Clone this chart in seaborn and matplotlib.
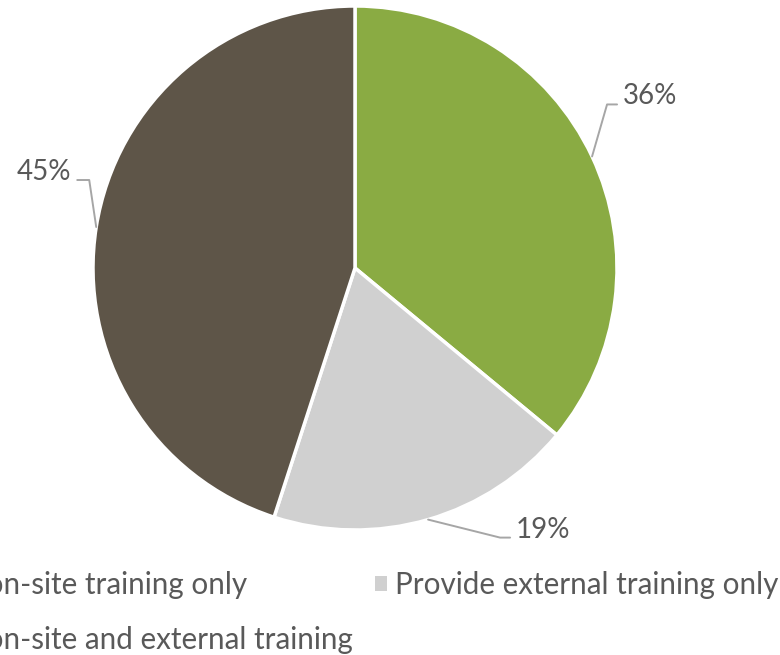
import numpy as np
import matplotlib.pyplot as plt
import matplotlib.patches as mpatches
import seaborn as sns

# data
categories = ["Provide on-site training only",
              "Provide external training only",
              "Provide on-site and external training"]
shares = [36, 19, 45]
pct_labels = ["36%", "19%", "45%"]
colors = ["#8aab43", "#d0d0d0", "#5e5548"]

sns.set_theme(style="white")
plt.rcParams['font.family'] = ['Lato', 'DejaVu Sans']
TXT = "#595959"
FS = 20
LFS = 21.3

W, H = 780, 655
fig = plt.figure(figsize=(7.8, 6.55), dpi=100)
ax = fig.add_axes([0, 0, 1, 1])
cx, cy, r = 355, H - 268, 262
wedges, _ = ax.pie(shares, colors=colors, startangle=90, counterclock=False,
                   center=(cx, cy), radius=r,
                   wedgeprops=dict(edgecolor="white", linewidth=2.5))
ax.set_xlim(0, W)
ax.set_ylim(0, H)
ax.set_aspect("equal")
ax.axis("off")

# leader line layout: (elbow dx, elbow dy, end dx) relative to wedge edge point
leader = [(15, 52, 25), (72, -18, 82), (-7, 47, -19)]
for w, lab, (ex, ey, endx) in zip(wedges, pct_labels, leader):
    th = np.deg2rad((w.theta1 + w.theta2) / 2)
    sx, sy = cx + r * np.cos(th), cy + r * np.sin(th)
    px, py = sx + ex, sy + ey
    qx = sx + endx
    ax.plot([sx, px, qx], [sy, py, py], color="#a6a6a6", lw=1.4)
    if endx > 0:
        ax.text(qx + 6, py + 8, lab, ha="left", va="center", fontsize=FS, color=TXT)
    else:
        ax.text(qx - 6, py + 8, lab, ha="right", va="center", fontsize=FS, color=TXT)

handles = [mpatches.Patch(facecolor=c, edgecolor="none") for c in colors]
order = [0, 2, 1]
top = 1 - 571 / H
leg = fig.legend([handles[i] for i in order], [categories[i] for i in order],
                 ncol=2, frameon=False, loc="upper left",
                 bbox_to_anchor=(0, top), borderpad=0, borderaxespad=0,
                 fontsize=LFS, handlelength=0.42, handleheight=0.42,
                 handletextpad=0.25, columnspacing=0.75, labelspacing=0.9)
for t in leg.get_texts():
    t.set_color(TXT)

# shift legend so the second column's marker sits at x=375
fig.canvas.draw()
hx = leg.legend_handles[2].get_window_extent().x0
leg.set_bbox_to_anchor(((375 - hx) / W, top), transform=fig.transFigure)

fig.savefig("out.png", dpi=100)
